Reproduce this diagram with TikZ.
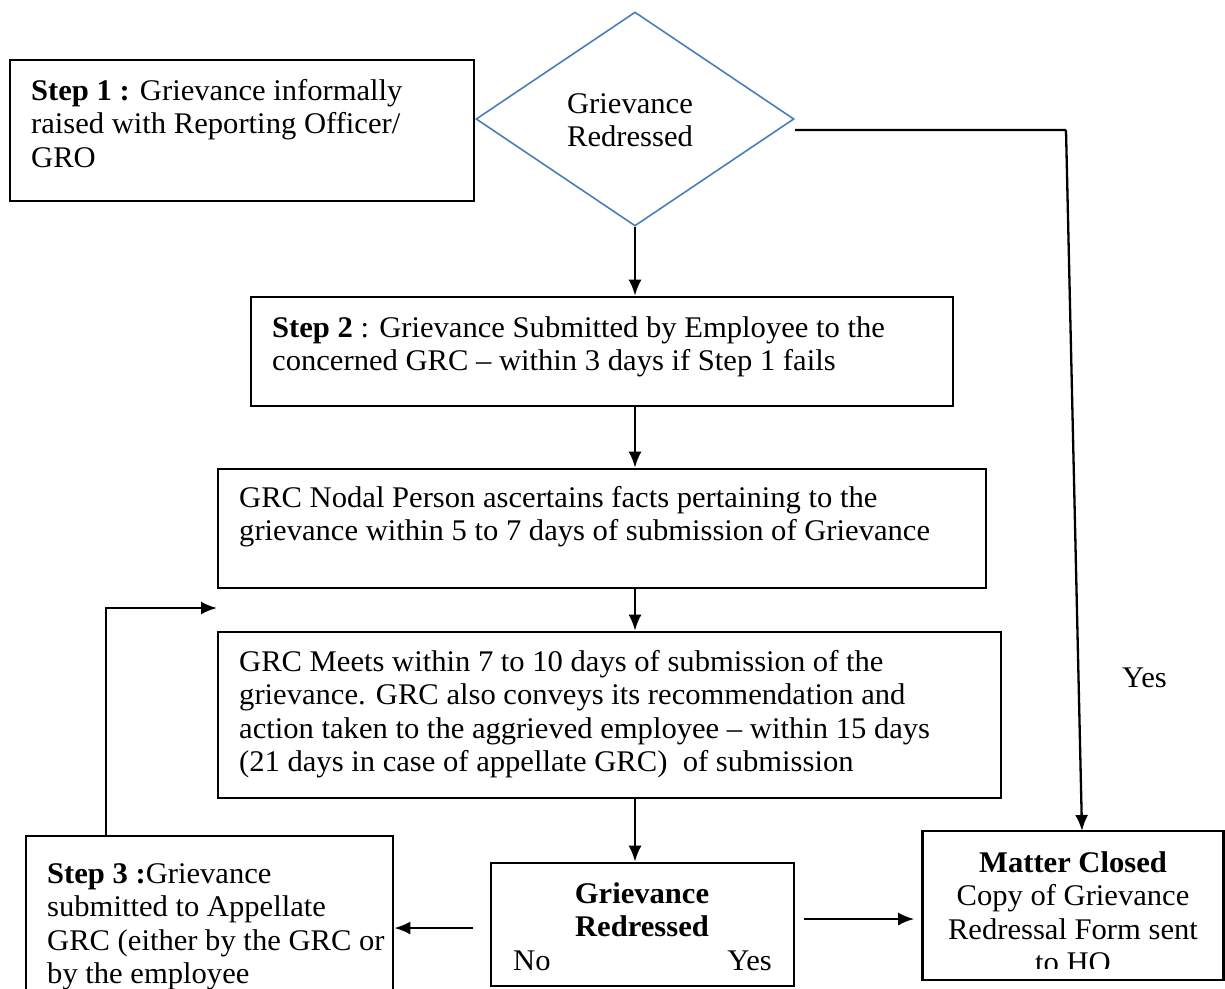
\documentclass[tikz,border=0pt]{standalone}
\usepackage{fontspec}
\setmainfont{Liberation Serif}[FakeStretch=1.02]
\usetikzlibrary{arrows.meta,shapes.geometric}
\definecolor{decblue}{HTML}{4A7EBB}
\newcommand{\lleft}[1]{\begin{tabular}[t]{@{}l@{}}#1\end{tabular}}
\newcommand{\lcent}[1]{\begin{tabular}[t]{@{}c@{}}#1\end{tabular}}
\tikzset{
  box/.style={draw=black, line width=2.6pt, rectangle, inner sep=0pt},
  txt/.style={inner sep=0pt, font=\fontsize{30}{33.6}\selectfont},
  arr/.style={draw=black, line width=2.3pt, -{Latex[length=16pt,width=13pt]}},
}
\begin{document}
\begin{tikzpicture}[x=1pt,y=-1pt]
\useasboundingbox (0,0) rectangle (1225,988);

% boxes
\node[box, minimum width=464pt, minimum height=141pt] (s1) at (242,130.5) {};
\node[draw=decblue, line width=1.6pt, diamond, inner sep=0pt,
      minimum width=318pt, minimum height=214pt] (d) at (635,119) {};
\node[box, minimum width=702pt, minimum height=109pt] (s2) at (602,351.5) {};
\node[box, minimum width=768pt, minimum height=119pt] (np) at (602,528.5) {};
\node[box, minimum width=783pt, minimum height=166pt] (mt) at (609.5,715) {};
\node[box, minimum width=303pt, minimum height=123pt] (gr) at (642.5,924.5) {};
\node[box, minimum width=367pt, minimum height=156pt] (s3) at (209.5,914) {};
\node[box, minimum width=301pt, minimum height=149pt] (mc) at (1073,905.5) {};

% texts
\node[txt, anchor=base west] (s1t) at (31,100)
  {\lleft{\textbf{Step 1 :} Grievance informally\\raised with Reporting Officer/\\GRO}};
\node[txt, anchor=base] (dt) at (630,113)
  {\lcent{Grievance\\Redressed}};
\node[txt, anchor=base west] (s2t) at (272,337)
  {\lleft{\textbf{Step 2} : Grievance Submitted by Employee to the\\concerned GRC -- within 3 days if Step 1 fails}};
\node[txt, anchor=base west] (npt) at (239,507)
  {\lleft{GRC Nodal Person ascertains facts pertaining to the\\grievance within 5 to 7 days of submission of Grievance}};
\node[txt, anchor=base west] (mtt) at (239,671)
  {\lleft{GRC Meets within 7 to 10 days of submission of the\\grievance. GRC also conveys its recommendation and\\action taken to the aggrieved employee -- within 15 days\\(21 days in case of appellate GRC)\ \ of submission}};
\node[txt, anchor=base] (grt) at (642,903)
  {\lcent{\textbf{Grievance}\\\textbf{Redressed}}};
\node[txt, anchor=base west] (grno) at (513,970) {No};
\node[txt, anchor=base east] (gryes) at (772,970) {Yes};
\node[txt, anchor=base west] (s3t) at (47,883)
  {\lleft{\textbf{Step 3 :}Grievance\\submitted to Appellate\\GRC (either by the GRC or\\by the employee}};
\begin{scope}
  \clip (922,831) rectangle (1224,968);
  \node[txt, anchor=base] (mct) at (1073,872)
    {\lcent{\textbf{Matter Closed}\\Copy of Grievance\\Redressal Form sent\\to HO}};
\end{scope}
\node[txt, anchor=base west] (yeslbl) at (1122,687) {Yes};

% connectors down the main column
\draw[arr] (d.south) -- (d.south |- s2.north);
\draw[arr] (d.south |- s2.south) -- (d.south |- np.north);
\draw[arr] (d.south |- np.south) -- (d.south |- mt.north);
\draw[arr] (d.south |- mt.south) -- (d.south |- gr.north);

% outcome of the lower decision
\coordinate (noOut) at (473,928);
\draw[arr] (noOut) -- (noOut -| s3.east);
\coordinate (yesOut) at (804,919);
\draw[arr, shorten >=7pt] (yesOut) -- (yesOut -| mc.west);

% redressed at step 1
\coordinate (topOut) at (795,130);
\coordinate (topBend) at (1066,130);
\coordinate (mcIn) at (1082,831);
\draw[arr, rounded corners=1pt] (topOut) -- (topBend) -- (mcIn);

% appeal loops back to the GRC
\coordinate (loopOut) at (106,836);
\coordinate (loopIn) at (217,608);
\draw[arr] (loopOut) |- (loopIn);
\end{tikzpicture}
\end{document}
